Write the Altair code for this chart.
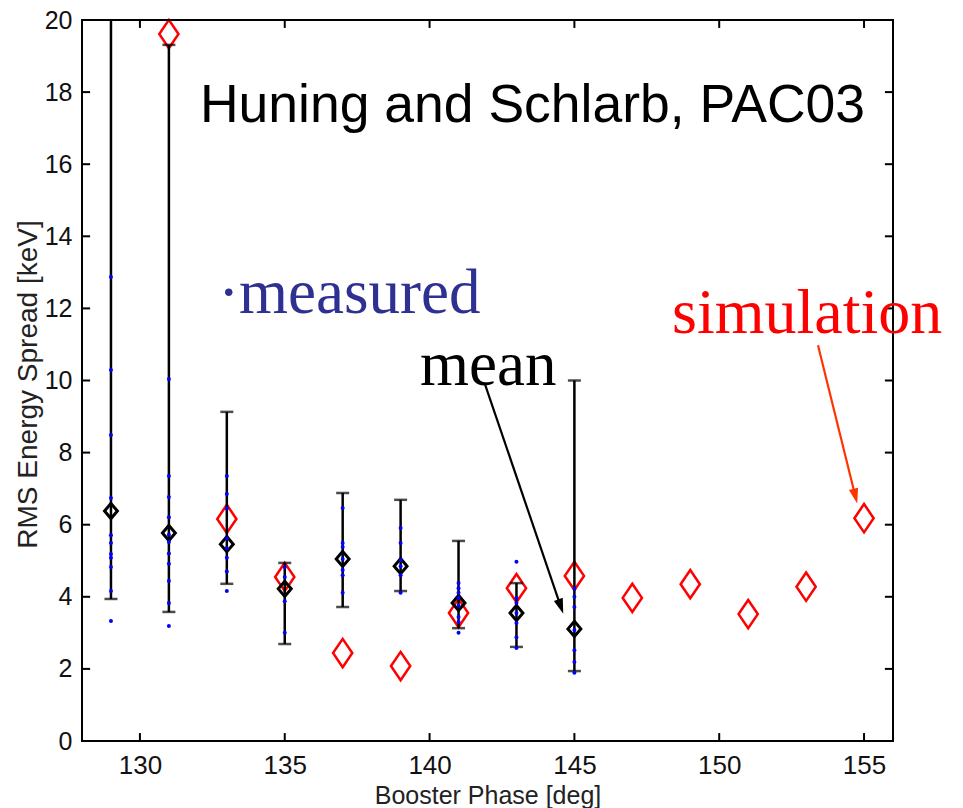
import altair as alt
import pandas as pd

# ---------------- data ----------------
x_ticks = [130, 135, 140, 145, 150, 155]
y_ticks = [0, 2, 4, 6, 8, 10, 12, 14, 16, 18, 20]

phase_mean = [129, 131, 133, 135, 137, 139, 141, 143, 145]
mean_vals = [6.38, 5.77, 5.46, 4.22, 5.05, 4.85, 3.83, 3.55, 3.11]
err_low = [3.94, 3.58, 4.36, 2.69, 3.72, 4.16, 3.13, 2.61, 1.94]
err_high = [20.8, 19.31, 9.13, 4.94, 6.88, 6.69, 5.55, 4.38, 10.0]

sim_phase = [131, 133, 135, 137, 139, 141, 143, 145, 147, 149, 151, 153, 155]
sim_vals = [19.61, 6.16, 4.55, 2.44, 2.08, 3.55, 4.24, 4.58, 3.97, 4.35, 3.52, 4.28, 6.18]

meas_129 = [12.87, 10.29, 8.49, 6.74, 5.71, 5.49, 5.19, 5.08, 4.83, 4.16, 3.33]
meas_131 = [10.04, 7.35, 6.77, 6.21, 5.72, 5.52, 5.20, 4.92, 4.44, 3.83, 3.19]
meas_133 = [7.35, 6.85, 6.45, 5.62, 5.35, 5.08, 4.70, 4.16]
meas_135 = [4.83, 4.55, 3.88, 3.00]
meas_137 = [6.46, 5.49, 5.38, 5.05, 4.74, 4.60, 4.11]
meas_139 = [5.91, 5.49, 5.02, 4.85, 4.60, 4.11]
meas_141 = [4.38, 4.24, 4.11, 3.97, 3.75, 3.44, 3.30, 3.00]
meas_143 = [4.97, 3.97, 3.83, 3.55, 3.27, 2.88, 2.58]
meas_145 = [4.22, 4.00, 3.72, 3.08, 2.52, 2.19, 1.89]

measured_lists = [meas_129, meas_131, meas_133, meas_135, meas_137,
                  meas_139, meas_141, meas_143, meas_145]

# annotation texts and anchor points (data coordinates)
ann_text = ["Huning and Schlarb, PAC03", "\u00b7measured", "mean", "simulation"]
ann_x = [132.07, 132.70, 139.67, 148.37]
ann_y = [17.17, 11.87, 9.88, 11.32]

arrow_black = {"x": 141.92, "y": 9.88, "x2": 144.53, "y2": 3.73, "angle": 161}
arrow_red = {"x": 153.41, "y": 10.98, "x2": 154.70, "y2": 6.79, "angle": 166}

# ---------------- tables ----------------
meas_df = pd.DataFrame(
    [{"phase": p, "val": v} for p, vals in zip(phase_mean, measured_lists) for v in vals]
)
mean_df = pd.DataFrame({"phase": phase_mean, "val": mean_vals, "lo": err_low, "hi": err_high})
sim_df = pd.DataFrame({"phase": sim_phase, "val": sim_vals})

X0, X1, Y0, Y1 = 128, 156, 0, 20
tick_len_x = 0.28
tick_len_y = 0.22
xt_df = pd.DataFrame(
    [{"phase": t, "val": Y0, "val2": Y0 + tick_len_y} for t in x_ticks]
    + [{"phase": t, "val": Y1, "val2": Y1 - tick_len_y} for t in x_ticks]
)
yt_df = pd.DataFrame(
    [{"phase": X0, "phase2": X0 + tick_len_x, "val": t} for t in y_ticks]
    + [{"phase": X1, "phase2": X1 - tick_len_x, "val": t} for t in y_ticks]
)
frame_df = pd.DataFrame([{"phase": X0, "phase2": X1, "val": Y0, "val2": Y1}])

SANS = "Liberation Sans"
SERIF = "Liberation Serif"

xs = alt.Scale(domain=[X0, X1], nice=False, zero=False)
ys = alt.Scale(domain=[Y0, Y1], nice=False, zero=False)
xaxis = alt.Axis(values=x_ticks, title="Booster Phase [deg]", grid=False, domain=False,
                 ticks=False, labelFontSize=26, labelFont=SANS, labelColor="#111",
                 labelPadding=11, titleFont=SANS, titleFontSize=25, titleFontWeight="normal",
                 titleColor="#222", titleY=62, titleBaseline="alphabetic")
yaxis = alt.Axis(values=y_ticks, title="RMS Energy Spread [keV]", grid=False, domain=False,
                 ticks=False, labelFontSize=25, labelFont=SANS, labelColor="#111",
                 labelPadding=10, titleFont=SANS, titleFontSize=28, titleFontWeight="normal",
                 titleColor="#222", titleX=-54, titleY=364, titleBaseline="middle")


def X(field="phase"):
    return alt.X(f"{field}:Q", scale=xs, axis=xaxis)


def Y(field="val"):
    return alt.Y(f"{field}:Q", scale=ys, axis=yaxis)


red_diamond = "M0,-1L0.68,0L0,1L-0.68,0Z"
black_diamond = "M0,-1L0.85,0L0,1L-0.85,0Z"
arrow_head = "M0,-1L0.62,1L-0.62,1Z"

frame = alt.Chart(frame_df).mark_rect(filled=False, stroke="black", strokeWidth=2,
                                      fillOpacity=0).encode(x=X(), x2="phase2:Q", y=Y(), y2="val2:Q")

sim = alt.Chart(sim_df).mark_point(shape=red_diamond, size=800, color="#ff0000",
                                   strokeWidth=2.5, filled=False, opacity=1).encode(x=X(), y=Y())

bars = alt.Chart(mean_df).mark_rule(color="black", strokeWidth=2.5, clip=True).encode(
    x=X(), y=Y("lo"), y2="hi:Q")
cap_lo = alt.Chart(mean_df).mark_tick(color="black", orient="horizontal", size=13,
                                      thickness=2.5, clip=True).encode(x=X(), y=Y("lo"))
cap_hi = alt.Chart(mean_df).mark_tick(color="black", orient="horizontal", size=13,
                                      thickness=2.5, clip=True).encode(x=X(), y=Y("hi"))
means = alt.Chart(mean_df).mark_point(shape=black_diamond, size=230, color="black",
                                      strokeWidth=3, filled=False, opacity=1).encode(x=X(), y=Y())

dots = alt.Chart(meas_df).mark_circle(size=16, color="#0000ff", opacity=1).encode(x=X(), y=Y())

xticks = alt.Chart(xt_df).mark_rule(color="black", strokeWidth=2).encode(
    x=X(), y=Y(), y2="val2:Q")
yticks = alt.Chart(yt_df).mark_rule(color="black", strokeWidth=2).encode(
    x=X(), x2="phase2:Q", y=Y())

ann_df = pd.DataFrame({"label": ann_text, "phase": ann_x, "val": ann_y,
                       "kind": ["title", "measured", "mean", "simulation"]})


def ann_text_layer(kind, font, size, color):
    return alt.Chart(ann_df).transform_filter(alt.datum.kind == kind).mark_text(
        align="left", baseline="alphabetic", font=font, fontSize=size, color=color
    ).encode(x=X(), y=Y(), text="label:N")


t_title = ann_text_layer("title", SANS, 53.5, "black")
t_meas = ann_text_layer("measured", SERIF, 63, "#2e3192")
t_mean = ann_text_layer("mean", SERIF, 63, "black")
t_sim = ann_text_layer("simulation", SERIF, 64, "#ff0000")


def arrow(a, color):
    df = pd.DataFrame([{"phase": a["x"], "val": a["y"], "phase2": a["x2"], "val2": a["y2"]}])
    line = alt.Chart(df).mark_rule(color=color, strokeWidth=2.2).encode(
        x=X(), y=Y(), x2="phase2:Q", y2="val2:Q")
    head = alt.Chart(df).mark_point(shape=arrow_head, size=230, color=color, filled=True,
                                    opacity=1, angle=a["angle"]).encode(x=X("phase2"), y=Y("val2"))
    return line + head


chart = alt.layer(
    sim, bars, cap_lo, cap_hi, means, dots, xticks, yticks, frame,
    t_title, t_meas, t_mean, t_sim,
    arrow(arrow_black, "black"), arrow(arrow_red, "#ff3300"),
).properties(
    width=811, height=721,
    padding={"left": 82, "top": 20, "right": 70, "bottom": 67},
    autosize="none",
).configure_view(stroke="black", strokeWidth=2).configure(background="white")

chart.save("out.html", embed_options={"renderer": "svg", "actions": False})
